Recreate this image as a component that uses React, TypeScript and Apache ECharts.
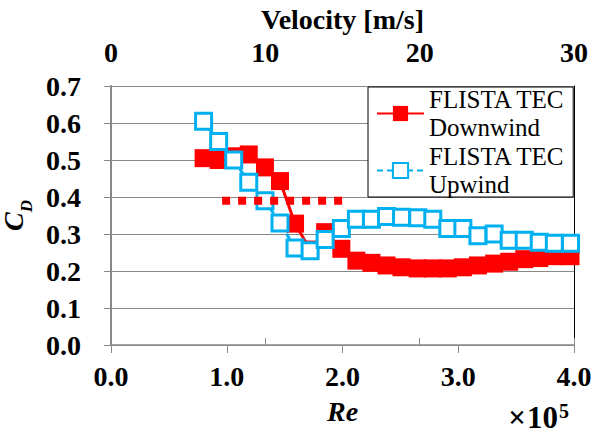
import React, { useEffect, useRef } from "react";
import * as echarts from "echarts";

const reynolds = [0.80, 0.93, 1.06, 1.19, 1.33, 1.46, 1.59, 1.72, 1.85, 1.99, 2.12, 2.25, 2.38, 2.51, 2.65, 2.78, 2.91, 3.04, 3.17, 3.31, 3.44, 3.57, 3.70, 3.83, 3.97];
const downwindCd = [0.505, 0.50, 0.51, 0.515, 0.48, 0.443, 0.328, 0.258, 0.305, 0.26, 0.228, 0.222, 0.215, 0.21, 0.207, 0.207, 0.207, 0.21, 0.215, 0.22, 0.225, 0.232, 0.235, 0.24, 0.24];
const upwindCd = [0.605, 0.55, 0.50, 0.44, 0.39, 0.33, 0.262, 0.255, 0.285, 0.315, 0.34, 0.34, 0.347, 0.345, 0.344, 0.34, 0.315, 0.315, 0.295, 0.30, 0.283, 0.283, 0.278, 0.275, 0.275];
const referenceRe = [0.96, 2.0];
const referenceCd = [0.39, 0.39];
const seriesNames = ["FLISTA TEC Downwind", "FLISTA TEC Upwind"];
const reTicks = [0, 1, 2, 3, 4];
const velocityTicks = [0, 10, 20, 30];

const FONT = "Liberation Serif";
const GRID = "#898989";

export default function App() {
  const ref = useRef<HTMLDivElement>(null);
  useEffect(() => {
    if (!ref.current) return;
    const chart = echarts.init(ref.current, undefined, { renderer: "svg" });
    const pair = (xs: number[], ys: number[]) => xs.map((x, i) => [x, ys[i]]);
    const labelStyle = { fontFamily: FONT, fontSize: 28, fontWeight: "bold", color: "#000" };
    chart.setOption({
      animation: false,
      textStyle: { fontFamily: FONT },
      grid: { left: 111, top: 86, width: 463, height: 259, containLabel: false, outerBoundsMode: "none" },
      legend: {
        orient: "vertical",
        left: 368,
        top: 87,
        data: seriesNames,
        formatter: (n: string) => n.replace("TEC ", "TEC\n"),
        itemWidth: 47,
        itemHeight: 19,
        itemGap: 4,
        padding: [0, 8, 0, 8],
        borderColor: "#000",
        borderWidth: 1,
        backgroundColor: "#fff",
        textStyle: { fontFamily: FONT, fontSize: 25, lineHeight: 28, height: 28, color: "#000" },
      },
      xAxis: [
        {
          type: "value", position: "bottom", min: reTicks[0], max: reTicks[reTicks.length - 1], interval: 1,
          axisLine: { show: true, lineStyle: { color: GRID, width: 1.5 } },
          axisTick: { show: true, inside: false, length: 8, lineStyle: { color: GRID } },
          axisLabel: { ...labelStyle, margin: 17, formatter: (v: number) => v.toFixed(1) },
          splitLine: { show: false },
          name: "Re", nameLocation: "middle", nameGap: 52,
          nameTextStyle: { ...labelStyle, fontStyle: "italic" },
        },
        {
          type: "value", position: "top", min: velocityTicks[0], max: velocityTicks[velocityTicks.length - 1], interval: 10,
          axisLine: { show: true, lineStyle: { color: GRID, width: 1 } },
          axisTick: { show: true, inside: false, length: 7, lineStyle: { color: GRID } },
          axisLabel: { ...labelStyle, margin: 20 },
          splitLine: { show: false },
          name: "Velocity [m/s]", nameLocation: "middle", nameGap: 49,
          nameTextStyle: { ...labelStyle },
        },
      ],
      yAxis: [
        {
          type: "value", position: "left", min: 0, max: 0.7, interval: 0.1,
          axisLine: { show: true, lineStyle: { color: GRID, width: 2 } },
          axisTick: { show: true, inside: false, length: 7, lineStyle: { color: GRID } },
          axisLabel: { ...labelStyle, margin: 30, formatter: (v: number) => v.toFixed(1) },
          splitLine: { show: true, lineStyle: { color: GRID, width: 1 } },
          name: "{c|C}{d|D}", nameLocation: "middle", nameRotate: 90, nameGap: 67,
          nameTextStyle: {
            rich: {
              c: { fontFamily: FONT, fontSize: 28, fontWeight: "bold", fontStyle: "italic", color: "#000", lineHeight: 28, verticalAlign: "top" },
              d: { fontFamily: FONT, fontSize: 17, fontWeight: "bold", fontStyle: "italic", color: "#000", lineHeight: 17, padding: [19, 0, 0, 0], verticalAlign: "top" },
            },
          },
        },
        {
          type: "value", position: "left", min: 0, max: 0.7, interval: 0.1,
          axisLine: { show: false },
          axisTick: { show: true, inside: true, length: 7, lineStyle: { color: GRID } },
          axisLabel: { show: false }, splitLine: { show: false },
        },
        {
          type: "value", position: "right", min: 0, max: 0.7, interval: 0.1,
          axisLine: { show: true, lineStyle: { color: "#000", width: 1 } },
          axisTick: { show: false }, axisLabel: { show: false }, splitLine: { show: false },
        },
      ],
      graphic: [
        {
          type: "text", right: 24, bottom: 1,
          style: {
            text: "{a|×}{a|10}{b|5}",
            rich: {
              a: { fontFamily: FONT, fontSize: 31, fontWeight: "bold", fill: "#000", lineHeight: 32, verticalAlign: "bottom", padding: [0, 1, 0, 0] },
              b: { fontFamily: FONT, fontSize: 20, fontWeight: "bold", fill: "#000", lineHeight: 20, verticalAlign: "top" },
            },
          },
        },
      ],
      series: [
        { name: seriesNames[0], type: "line", data: pair(reynolds, downwindCd), symbol: "rect", symbolSize: 18,
          itemStyle: { color: "#ff0000" }, lineStyle: { color: "#ff0000", width: 3 }, z: 2 },
        { name: seriesNames[1], type: "line", data: pair(reynolds, upwindCd), symbol: "rect", symbolSize: 16,
          itemStyle: { color: "#ffffff", borderColor: "#00b0f0", borderWidth: 3 }, lineStyle: { color: "#00b0f0", width: 3, type: [6, 4] }, z: 3 },
        { name: "reference", type: "line", data: pair(referenceRe, referenceCd), symbol: "none",
          lineStyle: { color: "#ff0000", width: 8, type: [8, 8], cap: "butt" }, z: 4 },
      ],
    });
    return () => chart.dispose();
  }, []);
  return <div ref={ref} style={{ width: 593, height: 434, position: "absolute", left: 0, top: 0 }} />;
}
